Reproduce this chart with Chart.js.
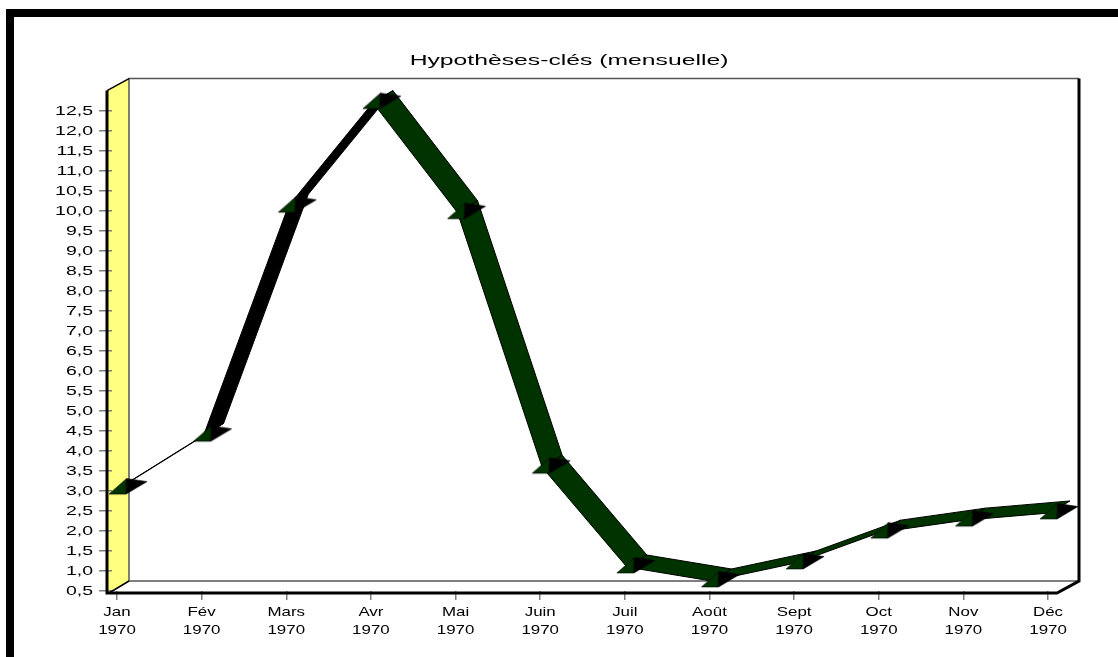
<!DOCTYPE html>
<html lang="fr">
<head>
<meta charset="utf-8">
<title>Hypothèses-clés (mensuelle)</title>
<script src="https://cdn.jsdelivr.net/npm/chart.js@4"></script>
<style>
  html, body { margin: 0; padding: 0; background: #fff; }
  canvas { display: block; }
</style>
</head>
<body>
<canvas id="chart" width="1118" height="657"></canvas>
<script>
const chartTitle = 'Hypothèses-clés (mensuelle)';
const months = ['Jan', 'Fév', 'Mars', 'Avr', 'Mai', 'Juin', 'Juil', 'Août', 'Sept', 'Oct', 'Nov', 'Déc'];
const year = '1970';
const values = [2.92, 4.24, 9.96, 12.55, 9.8, 3.44, 0.95, 0.6, 1.05, 1.82, 2.12, 2.3];
const yTickValues = [0.5, 1, 1.5, 2, 2.5, 3, 3.5, 4, 4.5, 5, 5.5, 6, 6.5, 7, 7.5, 8, 8.5, 9, 9.5, 10, 10.5, 11, 11.5, 12, 12.5];
const yTickLabels = ['0,5', '1,0', '1,5', '2,0', '2,5', '3,0', '3,5', '4,0', '4,5', '5,0', '5,5', '6,0', '6,5', '7,0', '7,5', '8,0', '8,5', '9,0', '9,5', '10,0', '10,5', '11,0', '11,5', '12,0', '12,5'];

const GREEN = '#003300';
const WALL = '#ffff80';
const TICK_GREY = '#808080';
const DEPTH = { x: 22, y: -12 };          // box depth in the oblique projection
const RIBBON_FRONT = { x: 2, y: -6 };     // ribbon start relative to a data point
const RIBBON_DEPTH = { x: 20, y: -12 };   // ribbon width along the depth axis

// Arrow-like marker: lit green face on the left, black face on the right.
function makeMarkerSprite() {
  const size = 80;
  const c = document.createElement('canvas');
  c.width = size;
  c.height = size;
  const g = c.getContext('2d');
  g.translate(size / 2, size / 2);
  g.lineJoin = 'round';
  g.lineWidth = 0.6;
  g.strokeStyle = '#000';
  g.fillStyle = GREEN;
  g.beginPath();
  g.moveTo(-8, 0); g.lineTo(9, 0); g.lineTo(9.5, -15.5); g.closePath();
  g.fill(); g.stroke();
  g.fillStyle = '#000';
  g.beginPath();
  g.moveTo(9, 0); g.lineTo(9.5, -15.5); g.lineTo(30, -12.5); g.closePath();
  g.fill(); g.stroke();
  return c;
}

// Draws text squeezed or widened horizontally around its anchor.
function stretchedText(ctx, text, x, y, sx, align) {
  ctx.save();
  ctx.translate(x, y);
  ctx.scale(sx, 1);
  ctx.textAlign = align;
  ctx.textBaseline = 'middle';
  ctx.fillText(text, 0, 0);
  ctx.restore();
}

const boxPlugin = {
  id: 'box3d',
  beforeDraw(chart) {
    const { ctx, scales: { x, y } } = chart;
    const left = x.left - 5;
    const right = x.right;
    const top = y.top;
    const bottom = y.bottom;
    ctx.save();
    // Outer frame bars along the top and left of the page
    ctx.fillStyle = '#000';
    ctx.fillRect(6, 9, chart.width - 6, 8);
    ctx.fillRect(6, 9, 8, chart.height - 9);
    // Yellow side wall
    ctx.fillStyle = WALL;
    ctx.beginPath();
    ctx.moveTo(left, top);
    ctx.lineTo(left + DEPTH.x, top + DEPTH.y);
    ctx.lineTo(left + DEPTH.x, bottom + 2 + DEPTH.y);
    ctx.lineTo(left, bottom + 2);
    ctx.closePath();
    ctx.fill();
    // Back wall outline
    ctx.strokeStyle = '#555';
    ctx.lineWidth = 1.5;
    ctx.beginPath();
    ctx.moveTo(left + DEPTH.x, bottom + 2 + DEPTH.y);
    ctx.lineTo(left + DEPTH.x, top + DEPTH.y);
    ctx.lineTo(right + DEPTH.x, top + DEPTH.y);
    ctx.moveTo(left + DEPTH.x, bottom + 2 + DEPTH.y);
    ctx.lineTo(right + DEPTH.x, bottom + 2 + DEPTH.y);
    ctx.stroke();
    ctx.restore();
  },
  beforeDatasetsDraw(chart) {
    const { ctx, scales: { x, y } } = chart;
    const left = x.left - 5;
    const right = x.right;
    const top = y.top;
    const floor = y.bottom + 2;
    ctx.save();
    ctx.strokeStyle = '#000';
    // Heavy edges of the box
    ctx.lineWidth = 3;
    ctx.beginPath();
    ctx.moveTo(left, top);
    ctx.lineTo(left, floor);
    ctx.lineTo(right, floor);
    ctx.lineTo(right + DEPTH.x, floor + DEPTH.y);
    ctx.lineTo(right + DEPTH.x, top + DEPTH.y);
    ctx.stroke();
    ctx.lineWidth = 1.5;
    ctx.beginPath();
    ctx.moveTo(left, top);
    ctx.lineTo(left + DEPTH.x, top + DEPTH.y);
    ctx.moveTo(left + 2, floor);
    ctx.lineTo(left + DEPTH.x, floor + DEPTH.y);
    ctx.stroke();

    // Ribbon faces joining consecutive points
    const pts = chart.getDatasetMeta(0).data;
    ctx.lineWidth = 1;
    ctx.lineJoin = 'round';
    for (let i = 0; i < pts.length - 1; i++) {
      const ax = pts[i].x + RIBBON_FRONT.x, ay = pts[i].y + RIBBON_FRONT.y;
      const bx = pts[i + 1].x + RIBBON_FRONT.x, by = pts[i + 1].y + RIBBON_FRONT.y;
      const cross = (bx - ax) * RIBBON_DEPTH.y - (by - ay) * RIBBON_DEPTH.x;
      ctx.fillStyle = cross > 0 ? '#000' : GREEN;
      ctx.beginPath();
      ctx.moveTo(ax, ay);
      ctx.lineTo(bx, by);
      ctx.lineTo(bx + RIBBON_DEPTH.x, by + RIBBON_DEPTH.y);
      ctx.lineTo(ax + RIBBON_DEPTH.x, ay + RIBBON_DEPTH.y);
      ctx.closePath();
      ctx.fill();
      ctx.stroke();
    }
    ctx.restore();
  },
  afterDraw(chart) {
    const { ctx, scales: { x, y } } = chart;
    ctx.save();
    ctx.fillStyle = '#000';
    ctx.font = '13px "Liberation Sans", Arial, sans-serif';
    y.ticks.forEach((t, i) => {
      stretchedText(ctx, yTickLabels[i], 93, y.getPixelForTick(i) + 0.5, 1.5, 'right');
    });
    x.ticks.forEach((t, i) => {
      const px = x.getPixelForTick(i);
      stretchedText(ctx, months[i], px, 612, 1.3, 'center');
      stretchedText(ctx, year, px, 630, 1.3, 'center');
    });
    ctx.font = '15px "Liberation Sans", Arial, sans-serif';
    stretchedText(ctx, chartTitle, 569, 61, 1.648, 'center');
    ctx.restore();
  }
};

new Chart(document.getElementById('chart'), {
  type: 'line',
  data: {
    datasets: [{
      label: chartTitle,
      data: values.map((v, i) => ({ x: i, y: v })),
      showLine: false,
      clip: false,
      pointStyle: makeMarkerSprite(),
      pointRadius: 40,
      pointHoverRadius: 40
    }]
  },
  options: {
    responsive: false,
    animation: false,
    layout: { padding: { top: 90.6, right: 61, bottom: 66, left: 112 } },
    plugins: { legend: { display: false }, title: { display: false }, tooltip: { enabled: false } },
    scales: {
      x: {
        type: 'linear',
        min: -0.059,
        max: 11.106,
        afterBuildTicks(scale) { scale.ticks = months.map((m, i) => ({ value: i })); },
        afterFit(scale) { scale.height = 0; },
        grid: { drawOnChartArea: false, drawTicks: true, tickLength: 9, color: TICK_GREY, lineWidth: 1.5 },
        border: { display: false },
        ticks: { display: false }
      },
      y: {
        type: 'linear',
        min: 0.5,
        max: 13,
        afterBuildTicks(scale) { scale.ticks = yTickValues.map(v => ({ value: v })); },
        afterFit(scale) { scale.width = 0; },
        grid: { drawOnChartArea: false, drawTicks: true, tickLength: 13, color: TICK_GREY, lineWidth: 1.5 },
        border: { display: false },
        ticks: { display: false }
      }
    }
  },
  plugins: [boxPlugin]
});
</script>
</body>
</html>
